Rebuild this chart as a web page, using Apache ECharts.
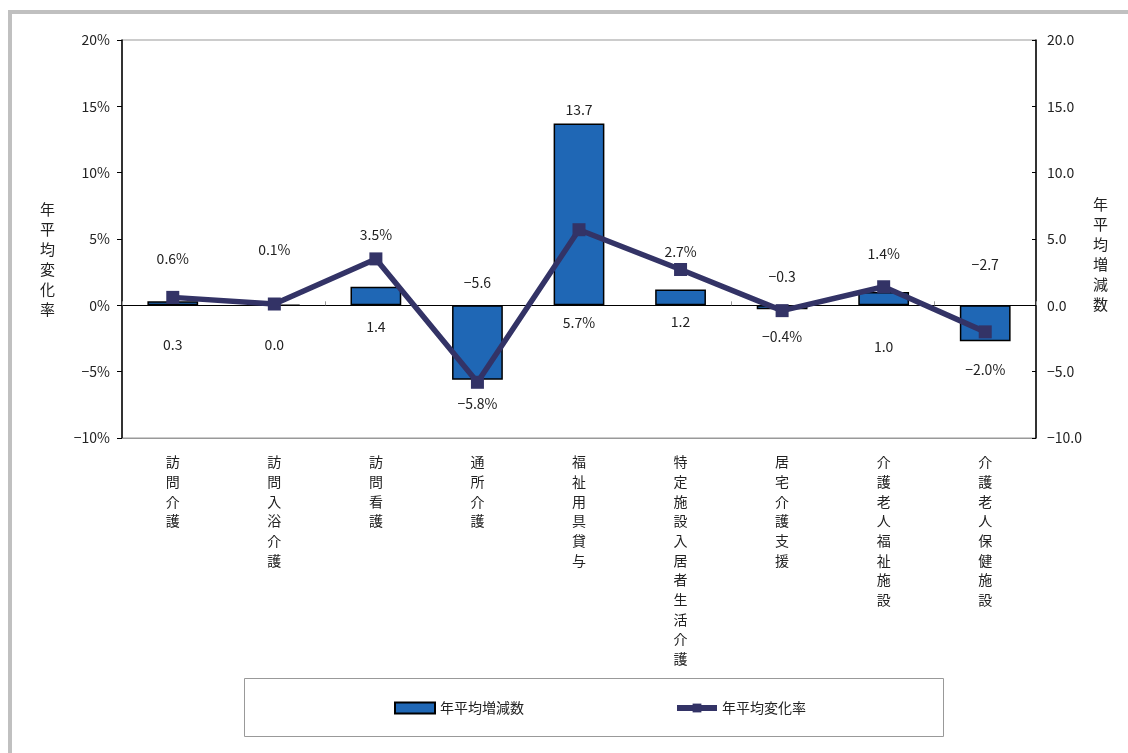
<!DOCTYPE html>
<html>
<head>
<meta charset="utf-8">
<script src="https://cdn.jsdelivr.net/npm/echarts@6/dist/echarts.min.js"></script>
<style>
html,body{margin:0;padding:0;background:#fff;}
#chart{width:1128px;height:753px;}
</style>
</head>
<body>
<div id="chart"></div>
<script>
// ---- data ----
const categories = ['訪問介護','訪問入浴介護','訪問看護','通所介護','福祉用具貸与','特定施設入居者生活介護','居宅介護支援','介護老人福祉施設','介護老人保健施設'];
const countChange = [0.3, 0.0, 1.4, -5.6, 13.7, 1.2, -0.3, 1.0, -2.7];   // 年平均増減数
const rateChange  = [0.6, 0.1, 3.5, -5.8, 5.7, 2.7, -0.4, 1.4, -2.0];    // 年平均変化率 (%)
const leftTicks  = [-10, 20, 5];
const rightTicks = [-10, 20, 5];

// ---- label placement (style only) ----
const barLabelPlace = [['bottom',32],['bottom',32],['bottom',14],['top',16],['top',7],['bottom',9],['top',22],['bottom',34],['top',34]];
const lineLabelPlace = [['top',25],['top',41],['top',11],['bottom',8],['bottom',79],['top',4],['bottom',13],['top',20],['bottom',24]];

const FONT = '"Noto Sans CJK JP", "Noto Sans", sans-serif';
const TXT = '#222';
const minus = s => String(s).replace('-', '−');
const fmt1 = v => minus(Number(v).toFixed(1));

const chart = echarts.init(document.getElementById('chart'), null, {renderer:'canvas'});

const barData = countChange.map((v,i)=>({value:v, label:{position:barLabelPlace[i][0], distance:barLabelPlace[i][1]}}));
const lineData = rateChange.map((v,i)=>({value:v, label:{position:lineLabelPlace[i][0], distance:lineLabelPlace[i][1]}}));

chart.setOption({
  animation:false,
  textStyle:{fontFamily:FONT, color:TXT},
  grid:{left:122, right:92, top:40, bottom:315, show:true, borderColor:'#999', borderWidth:1, backgroundColor:'transparent'},
  graphic:[
    {type:'rect', shape:{x:10, y:12, width:1140, height:780}, style:{fill:'none', stroke:'#c0c0c0', lineWidth:4}, silent:true},
    {type:'rect', shape:{x:244.5, y:678.5, width:699, height:58}, style:{fill:'none', stroke:'#999', lineWidth:1}, silent:true},
    {type:'text', left:40, top:199, style:{text:'年\n平\n均\n変\n化\n率', fontSize:15, fontFamily:FONT, fill:TXT, lineHeight:20}},
    {type:'text', left:1093, top:194, style:{text:'年\n平\n均\n増\n減\n数', fontSize:15, fontFamily:FONT, fill:TXT, lineHeight:20}}
  ],
  legend:{
    left:389, top:696, itemWidth:40, itemHeight:11, itemGap:150,
    textStyle:{fontSize:14, color:TXT, fontFamily:FONT},
    data:[
      {name:'年平均増減数', icon:'rect', itemStyle:{color:'#1f67b5', borderColor:'#000', borderWidth:2}},
      {name:'年平均変化率', lineStyle:{color:'#333366', width:6}, itemStyle:{color:'#333366'}}
    ]
  },
  xAxis:[
    {type:'category', data:categories, boundaryGap:true,
     axisLine:{onZero:true, lineStyle:{color:'#000', width:1}},
     axisTick:{show:true, inside:true, length:4, lineStyle:{color:'#999'}},
     axisLabel:{show:false}, splitLine:{show:false}},
    {type:'category', data:categories, position:'bottom', boundaryGap:true,
     axisLine:{show:true, onZero:false, lineStyle:{color:'#999'}},
     axisTick:{show:false},
     axisLabel:{show:true, interval:0, margin:14, fontSize:14, color:TXT, lineHeight:19.7, verticalAlign:'top',
       formatter: s => s.split('').join('\n')}}
  ],
  yAxis:[
    {type:'value', position:'left', min:leftTicks[0], max:leftTicks[1], interval:leftTicks[2],
     axisLine:{show:true, lineStyle:{color:'#000', width:1.5}},
     axisTick:{show:true, length:5, lineStyle:{color:'#000'}},
     splitLine:{show:false},
     axisLabel:{fontSize:14, color:TXT, margin:12, formatter: v => minus(v)+'%'}},
    {type:'value', position:'right', min:rightTicks[0], max:rightTicks[1], interval:rightTicks[2],
     axisLine:{show:true, lineStyle:{color:'#000', width:1.5}},
     axisTick:{show:true, inside:true, length:4, lineStyle:{color:'#000'}},
     splitLine:{show:false},
     axisLabel:{fontSize:14, color:TXT, margin:11, formatter: v => fmt1(v)}}
  ],
  series:[
    {name:'年平均増減数', type:'bar', xAxisIndex:0, yAxisIndex:1, data:barData, barWidth:'50%',
     itemStyle:{color:'#1f67b5', borderColor:'#000', borderWidth:1.5},
     label:{show:true, fontSize:14, color:TXT, fontFamily:FONT, formatter: p => fmt1(p.value)}},
    {name:'年平均変化率', type:'line', xAxisIndex:0, yAxisIndex:0, data:lineData,
     symbol:'rect', symbolSize:13,
     lineStyle:{color:'#333366', width:5.5},
     itemStyle:{color:'#333366'},
     label:{show:true, fontSize:14, color:TXT, fontFamily:FONT, formatter: p => fmt1(p.value)+'%'},
     z:5}
  ]
});
</script>
</body>
</html>
